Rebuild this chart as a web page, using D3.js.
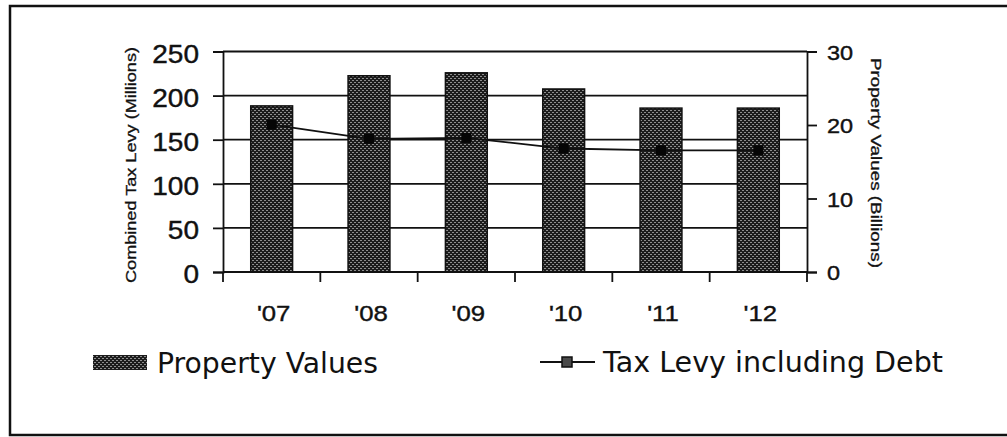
<!DOCTYPE html>
<html>
<head>
<meta charset="utf-8">
<script src="https://cdn.jsdelivr.net/npm/d3@7"></script>
<style>
  html, body { margin: 0; padding: 0; background: #fff; }
  svg { display: block; }
  .arial { font-family: "Liberation Sans", Arial, Helvetica, sans-serif; }
  .tahoma { font-family: "DejaVu Sans", Verdana, sans-serif; }
</style>
</head>
<body>
<svg id="chart" width="1007" height="437"></svg>
<script>
// Fiscal years shown along the bottom
const years = ["'07", "'08", "'09", "'10", "'11", "'12"];
// Property values, billions (right axis)
const propertyValues = [22.6, 26.7, 27.1, 24.9, 22.3, 22.3];
// Combined tax levy including debt, millions (left axis)
const taxLevy = [167, 151, 152, 140, 138, 138];
// Axis tick values
const levyTicks = [0, 50, 100, 150, 200, 250];
const valueTicks = [0, 10, 20, 30];

const svg = d3.select("#chart");
const ink = "#111";
const plot = { left: 223, right: 807, top: 51.5, bottom: 272 };

// Dotted fill used for the property value bars
const defs = svg.append("defs");
const pat = defs.append("pattern")
  .attr("id", "dots").attr("patternUnits", "userSpaceOnUse")
  .attr("width", 4).attr("height", 4);
pat.append("rect").attr("width", 4).attr("height", 4).attr("fill", "#1c1c1c");
pat.append("rect").attr("x", 0).attr("y", 0).attr("width", 2).attr("height", 1).attr("fill", "#8e8e8e");
pat.append("rect").attr("x", 2).attr("y", 2).attr("width", 2).attr("height", 1).attr("fill", "#8e8e8e");

// Outer frame
svg.append("rect")
  .attr("x", 10).attr("y", 6).attr("width", 1010).attr("height", 429)
  .attr("fill", "none").attr("stroke", ink).attr("stroke-width", 2.5);

const x = d3.scaleBand().domain(years)
  .range([plot.left, plot.right]).paddingInner(0.57).paddingOuter(0.285);
const yLevy = d3.scaleLinear().domain([0, 250]).range([plot.bottom, plot.top]);
const yValue = d3.scaleLinear().domain([0, 30]).range([plot.bottom, plot.top]);

// Horizontal gridlines at each levy tick
svg.append("g").selectAll("line").data(levyTicks).join("line")
  .attr("x1", plot.left).attr("x2", plot.right)
  .attr("y1", d => yLevy(d)).attr("y2", d => yLevy(d))
  .attr("stroke", ink).attr("stroke-width", 1.8);

// Bars
svg.append("g").selectAll("rect").data(years).join("rect")
  .attr("x", d => x(d)).attr("width", x.bandwidth())
  .attr("y", (d, i) => yValue(propertyValues[i]))
  .attr("height", (d, i) => yValue(0) - yValue(propertyValues[i]))
  .attr("fill", "url(#dots)").attr("stroke", ink).attr("stroke-width", 1.5);

// Left axis
const gLeft = svg.append("g").attr("transform", `translate(${plot.left},0)`)
  .call(d3.axisLeft(yLevy).tickValues(levyTicks).tickSize(10).tickPadding(14));
gLeft.attr("font-family", null).attr("font-size", null);
gLeft.selectAll("text")
  .attr("class", "arial")
  .style("font-size", "25px").attr("fill", ink)
  .attr("stroke", ink).attr("stroke-width", 0.4)
  .attr("x", -24 / 1.12).attr("dy", "0.42em")
  .attr("transform", "scale(1.12,1)");

// Right axis
const gRight = svg.append("g").attr("transform", `translate(${plot.right},0)`)
  .call(d3.axisRight(yValue).tickValues(valueTicks).tickSize(10).tickPadding(10));
gRight.attr("font-family", null).attr("font-size", null);
gRight.selectAll("text")
  .attr("class", "arial")
  .style("font-size", "21px").attr("fill", ink)
  .attr("stroke", ink).attr("stroke-width", 0.4)
  .attr("x", 20 / 1.12).attr("dy", "0.38em")
  .attr("transform", "scale(1.12,1)");

// Bottom axis: ticks at category boundaries, labels at centres
const boundaries = years.map(d => x(d) - x.step() * x.paddingInner() / 2)
  .concat([plot.right]);
const gBottom = svg.append("g").attr("transform", `translate(0,${plot.bottom})`);
gBottom.append("line").attr("x1", plot.left).attr("x2", plot.right)
  .attr("stroke", ink).attr("stroke-width", 1.8);
gBottom.selectAll("line.tick").data(boundaries).join("line").attr("class", "tick")
  .attr("x1", d => d).attr("x2", d => d).attr("y1", 0).attr("y2", 10)
  .attr("stroke", ink).attr("stroke-width", 1.8);
gBottom.selectAll("text").data(years).join("text")
  .attr("class", "arial")
  .attr("transform", d => `translate(${x(d) + x.bandwidth() / 2 + 2},49) scale(1.12,1)`)
  .attr("text-anchor", "middle")
  .style("font-size", "23px").attr("fill", ink)
  .attr("stroke", ink).attr("stroke-width", 0.4)
  .text(d => d);

[gLeft, gRight].forEach(g => {
  g.select(".domain").attr("stroke", ink).attr("stroke-width", 1.8);
  g.selectAll(".tick line").attr("stroke", ink).attr("stroke-width", 1.8);
});

// Tax levy line with square markers
const line = d3.line()
  .x((d, i) => x(years[i]) + x.bandwidth() / 2)
  .y(d => yLevy(d));
svg.append("path").datum(taxLevy)
  .attr("d", line).attr("fill", "none")
  .attr("stroke", ink).attr("stroke-width", 1.8);
const ms = 10;
svg.append("g").selectAll("rect").data(taxLevy).join("rect")
  .attr("x", (d, i) => x(years[i]) + x.bandwidth() / 2 - ms / 2)
  .attr("y", d => yLevy(d) - ms / 2)
  .attr("width", ms).attr("height", ms)
  .attr("fill", "#050505");

// Axis titles
svg.append("text")
  .attr("class", "arial")
  .attr("transform", "translate(136,165) rotate(-90)")
  .attr("text-anchor", "middle")
  .style("font-size", "14px").attr("fill", ink)
  .attr("stroke", ink).attr("stroke-width", 0.3)
  .attr("textLength", 236).attr("lengthAdjust", "spacingAndGlyphs")
  .text("Combined Tax Levy (Millions)");
svg.append("text")
  .attr("class", "arial")
  .attr("transform", "translate(871,163) rotate(90)")
  .attr("text-anchor", "middle")
  .style("font-size", "14px").attr("fill", ink)
  .attr("stroke", ink).attr("stroke-width", 0.3)
  .attr("textLength", 210).attr("lengthAdjust", "spacingAndGlyphs")
  .text("Property Values (Billions)");

// Legend
const legend = svg.append("g");
legend.append("rect")
  .attr("x", 93).attr("y", 355).attr("width", 54).attr("height", 15)
  .attr("fill", "url(#dots)");
legend.append("text")
  .attr("class", "tahoma")
  .attr("x", 157).attr("y", 373)
  .style("font-size", "28px").attr("fill", ink)
  .attr("textLength", 221).attr("lengthAdjust", "spacingAndGlyphs")
  .text("Property Values");
legend.append("line")
  .attr("x1", 540).attr("x2", 595).attr("y1", 362).attr("y2", 362)
  .attr("stroke", ink).attr("stroke-width", 1.8);
legend.append("rect")
  .attr("x", 562).attr("y", 357).attr("width", 10).attr("height", 10)
  .attr("fill", "#4a4a4a").attr("stroke", ink).attr("stroke-width", 1.5);
legend.append("text")
  .attr("class", "tahoma")
  .attr("x", 603).attr("y", 372)
  .style("font-size", "28px").attr("fill", ink)
  .attr("textLength", 340).attr("lengthAdjust", "spacingAndGlyphs")
  .text("Tax Levy including Debt");
</script>
</body>
</html>
